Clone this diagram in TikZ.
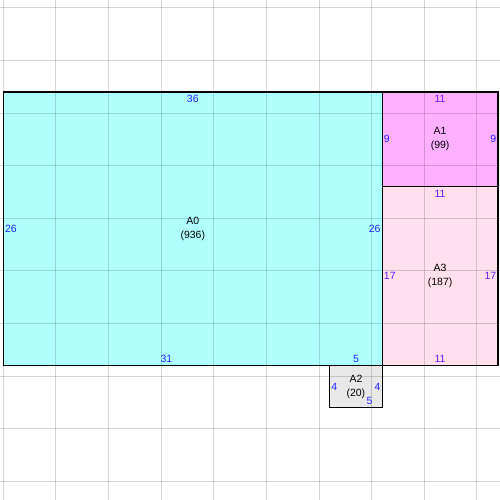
\documentclass[tikz,border=0pt]{standalone}
\usepackage{fontspec}
\setmainfont{Liberation Sans}

\definecolor{lenblue}{RGB}{35,35,255}
\definecolor{lenviolet}{RGB}{105,25,255}
\definecolor{fillzero}{RGB}{176,255,255}
\definecolor{fillone}{RGB}{255,176,255}
\definecolor{filltwo}{RGB}{232,232,232}
\definecolor{fillthree}{RGB}{255,224,236}

\begin{document}
\begin{tikzpicture}[x=0.3cm,y=-0.3cm,
    gridline/.style={draw=black,opacity=0.16,line width=0.8pt},
    part/.style={draw=black,line width=0.9pt},
    side/.style={font=\fontsize{8.5}{10}\selectfont,text=lenblue,inner xsep=1.2pt,inner ysep=2.6pt},
    sideb/.style={side,text=lenviolet},
    partname/.style={font=\fontsize{8.5}{11.5}\selectfont,align=center,inner sep=0pt}]
    \useasboundingbox (-0.32,-8.74) rectangle (47.19,38.77);
    % areas
    \fill[fillzero] (0,0) rectangle (36,26);
    \fill[fillone] (36,0) rectangle (47,9);
    \fill[fillthree] (36,9) rectangle (47,26);
    \fill[filltwo] (31,26) rectangle (36,30);
    % grid
    \foreach \x in {0,5,...,45}
        \draw[gridline] (\x,-8.74) -- (\x,38.77);
    \foreach \y in {-8,-3,...,37}
        \draw[gridline] (-0.32,\y) -- (47.19,\y);
    % borders
    \draw[part] (0,0) rectangle (36,26);
    \draw[part] (36,0) rectangle (47,9);
    \draw[part] (36,9) rectangle (47,26);
    \draw[part] (31,26) rectangle (36,30);

    % A0
    \node[partname] (a0) at (18,13) {A0\\(936)};
    \node[side,anchor=north] (a0top) at (18,0) {36};
    \node[side,anchor=west] (a0left) at (0,13) {26};
    \node[side,anchor=east] (a0right) at (36,13) {26};
    \node[side,anchor=south] (a0bot) at (15.5,26) {31};
    \node[side,anchor=south] (a0botb) at (33.5,26) {5};
    % A1
    \node[partname] (a1) at (41.5,4.5) {A1\\(99)};
    \node[sideb,anchor=north] (a1top) at (41.5,0) {11};
    \node[side,anchor=west] (a1left) at (36,4.5) {9};
    \node[side,anchor=east] (a1right) at (47,4.5) {9};
    % A3
    \node[partname] (a3) at (41.5,17.5) {A3\\(187)};
    \node[sideb,anchor=north] (a3top) at (41.5,9) {11};
    \node[sideb,anchor=west] (a3left) at (36,17.5) {17};
    \node[sideb,anchor=east] (a3right) at (47,17.5) {17};
    \node[sideb,anchor=south] (a3bot) at (41.5,26) {11};
    % A2
    \node[partname] (a2) at (33.5,28) {A2\\(20)};
    \node[side,anchor=west] (a2left) at (31,28) {4};
    \node[side,anchor=east] (a2right) at (36,28) {4};
    \node[side,anchor=south] (a2bot) at (34.8,30) {5};
\end{tikzpicture}
\end{document}
